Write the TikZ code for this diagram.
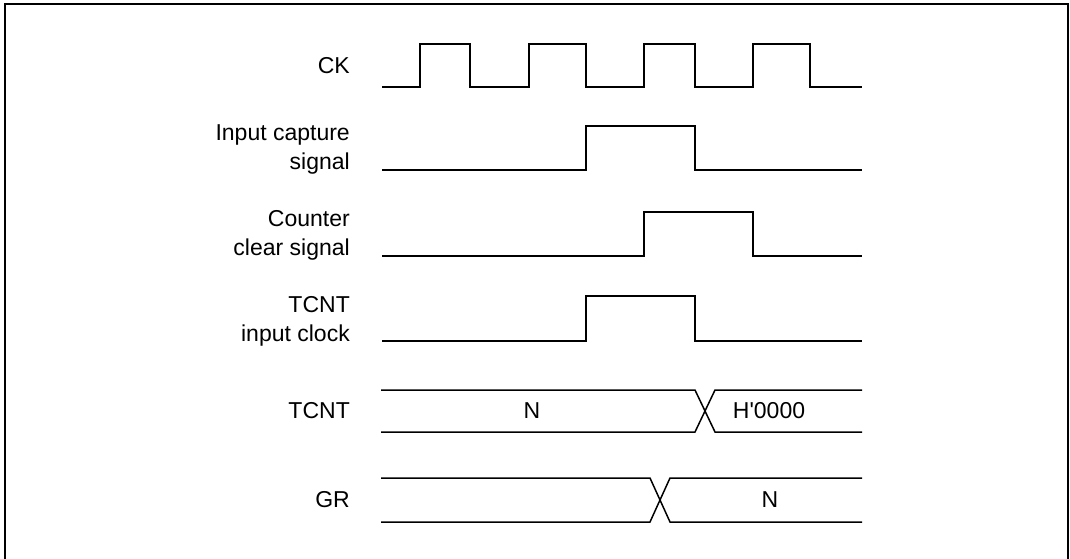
\documentclass[tikz,border=0pt]{standalone}
\usepackage{fontspec}
\setmainfont{Liberation Sans}
\begin{document}
\begin{tikzpicture}[x=1pt,y=-1pt,
  wave/.style={line width=1.5pt, line join=miter},
  frame/.style={line width=2pt},
  lbl/.style={font=\fontsize{23}{28.5}\selectfont, inner sep=0pt, align=right},
  val/.style={font=\fontsize{23}{28}\selectfont, inner sep=0pt}]
\useasboundingbox (0,0) rectangle (1070,559);
\draw[frame] (5,560) -- (5,4) -- (1068,4) -- (1068,560);
% CK
\node[lbl, anchor=east] (ck) at (350,65.5) {CK};
\draw[wave] (382,87) -- (420,87) -- (420,44) -- (470,44) -- (470,87)
  -- (529,87) -- (529,44) -- (586,44) -- (586,87)
  -- (644,87) -- (644,44) -- (695,44) -- (695,87)
  -- (753,87) -- (753,44) -- (810,44) -- (810,87) -- (862,87);
% Input capture
\node[lbl, anchor=base east] (ic) at (350,169) {Input capture\\signal};
\draw[wave] (382,170) -- (586,170) -- (586,126) -- (695,126) -- (695,170) -- (862,170);
% Counter clear
\node[lbl, anchor=base east] (cc) at (350,255) {Counter\\clear signal};
\draw[wave] (382,256) -- (644,256) -- (644,212) -- (753,212) -- (753,256) -- (862,256);
% TCNT input clock
\node[lbl, anchor=base east] (tic) at (350,341) {TCNT\\input clock};
\draw[wave] (382,341) -- (586,341) -- (586,296) -- (695,296) -- (695,341) -- (862,341);
% TCNT bus
\node[lbl, anchor=east] (tcnt) at (350,411) {TCNT};
\draw[wave] (381,390) -- (695,390) -- (715,432) -- (862,432);
\draw[wave] (381,432) -- (695,432) -- (715,390) -- (862,390);
\node[val] (tn) at (532,411) {N};
\node[val] (th) at (769,411) {H\textquotesingle 0000};
% GR bus
\node[lbl, anchor=east] (gr) at (350,500) {GR};
\draw[wave] (381,478) -- (650,478) -- (670,522) -- (862,522);
\draw[wave] (381,522) -- (650,522) -- (670,478) -- (862,478);
\node[val] (gn) at (770,500) {N};
\end{tikzpicture}
\end{document}
